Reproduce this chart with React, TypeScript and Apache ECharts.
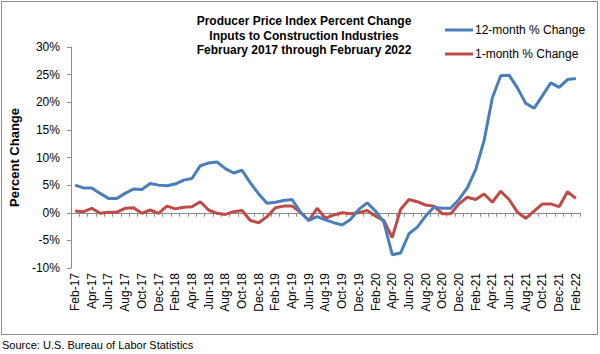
import React, { useEffect, useRef } from "react";
import * as echarts from "echarts";

const months = [
  "Feb-17","Mar-17","Apr-17","May-17","Jun-17","Jul-17","Aug-17","Sep-17","Oct-17","Nov-17","Dec-17",
  "Jan-18","Feb-18","Mar-18","Apr-18","May-18","Jun-18","Jul-18","Aug-18","Sep-18","Oct-18","Nov-18","Dec-18",
  "Jan-19","Feb-19","Mar-19","Apr-19","May-19","Jun-19","Jul-19","Aug-19","Sep-19","Oct-19","Nov-19","Dec-19",
  "Jan-20","Feb-20","Mar-20","Apr-20","May-20","Jun-20","Jul-20","Aug-20","Sep-20","Oct-20","Nov-20","Dec-20",
  "Jan-21","Feb-21","Mar-21","Apr-21","May-21","Jun-21","Jul-21","Aug-21","Sep-21","Oct-21","Nov-21","Dec-21",
  "Jan-22","Feb-22",
];

const twelveMonth = [
  5.0, 4.5, 4.5, 3.5, 2.6, 2.6, 3.5, 4.3, 4.2, 5.3, 5.0,
  4.9, 5.2, 5.9, 6.2, 8.5, 9.0, 9.2, 8.0, 7.2, 7.7, 5.4, 3.4,
  1.7, 1.9, 2.2, 2.4, 0.1, -1.4, -0.7, -1.3, -1.8, -2.2, -1.2, 0.6,
  1.8, 0.3, -1.7, -7.6, -7.3, -3.8, -2.6, -0.6, 1.0, 0.8, 0.8, 2.4,
  4.5, 7.8, 13.0, 20.8, 24.8, 24.9, 22.6, 19.8, 18.9, 21.2, 23.5, 22.7,
  24.1, 24.3,
];

const oneMonth = [
  0.3, 0.2, 0.8, -0.1, 0.1, 0.1, 0.8, 0.9, -0.1, 0.5, -0.1,
  1.2, 0.7, 1.0, 1.1, 2.0, 0.5, -0.1, -0.3, 0.2, 0.4, -1.4, -1.8,
  -0.7, 0.9, 1.2, 1.2, 0.1, -1.4, 0.8, -1.0, -0.4, 0.0, -0.2, 0.0,
  0.4, -0.6, -1.4, -4.5, 0.6, 2.4, 2.0, 1.4, 1.2, -0.2, -0.2, 1.6,
  2.8, 2.4, 3.4, 1.9, 3.9, 2.4, 0.1, -1.0, 0.3, 1.6, 1.6, 1.1,
  3.8, 2.6,
];

const titleLines = [
  "Producer Price Index Percent Change",
  "Inputs to Construction Industries",
  "February 2017 through February 2022",
];
const seriesNames = ["12-month % Change", "1-month % Change"];
const sourceText = "Source: U.S. Bureau of Labor Statistics";

const FONT = "'Liberation Sans', Arial, sans-serif";

export default function App() {
  const ref = useRef<HTMLDivElement>(null);
  useEffect(() => {
    if (!ref.current) return;
    const chart = echarts.init(ref.current, null, { renderer: "svg" });
    chart.setOption({
      animation: false,
      backgroundColor: "#ffffff",
      textStyle: { fontFamily: FONT },
      title: {
        text: titleLines.join("\n"),
        left: 299,
        top: 9,
        textAlign: "center",
        textStyle: { fontFamily: FONT, fontSize: 12, fontWeight: "bold", color: "#000", lineHeight: 14.5 },
      },
      legend: {
        orient: "vertical",
        left: 440,
        top: 18,
        icon: "rect",
        itemWidth: 28,
        itemHeight: 3,
        itemGap: 10,
        textStyle: { fontFamily: FONT, fontSize: 12, color: "#000", padding: [0, 0, 0, -3], lineHeight: 14 },
        data: seriesNames,
      },
      grid: { left: 57, right: 20, top: 47, bottom: 86, containLabel: false },
      xAxis: [
        {
          type: "category",
          data: months,
          boundaryGap: true,
          position: "bottom",
          axisLine: { show: false, onZero: false },
          axisTick: { show: false },
          axisLabel: {
            interval: 1,
            rotate: 90,
            margin: 5,
            fontFamily: FONT,
            fontSize: 12,
            color: "#000",
          },
        },
        {
          type: "category",
          data: months,
          boundaryGap: true,
          position: "bottom",
          axisLine: { show: true, onZero: true, lineStyle: { color: "#8c8c8c", width: 1 } },
          axisTick: { show: true, interval: 0, length: 4, lineStyle: { color: "#8c8c8c" } },
          axisLabel: { show: false },
        },
      ],
      yAxis: {
        type: "value",
        min: -10,
        max: 30,
        interval: 5,
        name: "Percent Change",
        nameLocation: "middle",
        nameGap: 46,
        nameTextStyle: { fontFamily: FONT, fontSize: 13, fontWeight: "bold", color: "#000" },
        splitLine: { show: false },
        axisLine: { show: true, lineStyle: { color: "#8c8c8c" } },
        axisTick: { show: true, length: 4, lineStyle: { color: "#8c8c8c" } },
        axisLabel: {
          formatter: "{value}%",
          margin: 11,
          fontFamily: FONT,
          fontSize: 12,
          color: "#000",
        },
      },
      series: [
        {
          name: seriesNames[0],
          type: "line",
          data: twelveMonth,
          symbol: "none",
          lineStyle: { color: "#4a7ebb", width: 3 },
          itemStyle: { color: "#4a7ebb" },
          z: 3,
        },
        {
          name: seriesNames[1],
          type: "line",
          data: oneMonth,
          symbol: "none",
          lineStyle: { color: "#be4b48", width: 3 },
          itemStyle: { color: "#be4b48" },
          z: 2,
        },
      ],
      graphic: [
        {
          type: "rect",
          shape: { x: 1.5, y: 1.5, width: 596, height: 333 },
          style: { fill: "none", stroke: "#8c8c8c", lineWidth: 1 },
          silent: true,
        },
        {
          type: "text",
          left: 2,
          top: 339,
          style: { text: sourceText, font: `11px ${FONT}`, fill: "#000" },
        },
      ],
    });
    return () => chart.dispose();
  }, []);
  return (
    <div
      ref={ref}
      style={{ position: "fixed", left: 0, top: 0, width: 600, height: 354 }}
    />
  );
}
